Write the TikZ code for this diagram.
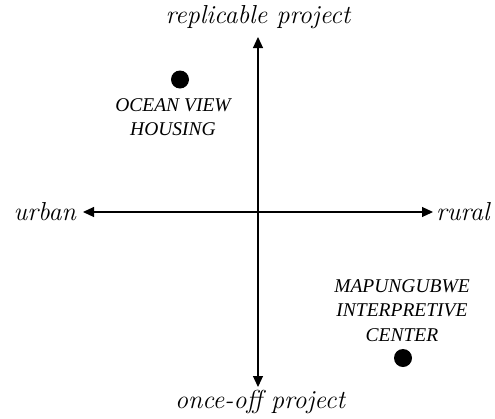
\documentclass[tikz,border=0pt]{standalone}
\usepackage{fontspec}
\newfontfamily\capfont{Liberation Serif}
\usetikzlibrary{arrows.meta}
\begin{document}
\begin{tikzpicture}[x=1pt,y=-1pt,
  axis/.style={line width=1.1pt,{Triangle[length=11pt,width=10pt]}-{Triangle[length=11pt,width=10pt]}},
  axlabel/.style={font=\fontsize{26}{30}\selectfont\itshape, inner sep=0pt},
  caplabel/.style={font=\capfont\fontsize{19.5}{24.5}\selectfont\itshape, align=center, inner sep=0pt},
  dot/.style={circle, fill=black, minimum size=18pt, inner sep=0pt}]
\useasboundingbox (0,0) rectangle (495,418);
\coordinate (top) at (258,37);
\coordinate (bot) at (258,387);
\coordinate (lft) at (83,212);
\coordinate (rgt) at (433,212);
\draw[axis] (bot) -- (top);
\draw[axis] (lft) -- (rgt);
\node[axlabel] (tl) at (258,17) {replicable project};
\node[axlabel] (bl) at (260,402) {once-off project};
\node[axlabel, anchor=east] (ll) at (76,212) {urban};
\node[axlabel, anchor=west] (rl) at (436,212) {rural};
\node[dot] (d1) at (180,79.5) {};
\node[caplabel] (t1) at (173,117) {OCEAN VIEW\\HOUSING};
\node[dot] (d2) at (403,358) {};
\node[caplabel] (t2) at (402,310.5) {MAPUNGUBWE\\INTERPRETIVE\\CENTER};
\end{tikzpicture}
\end{document}
